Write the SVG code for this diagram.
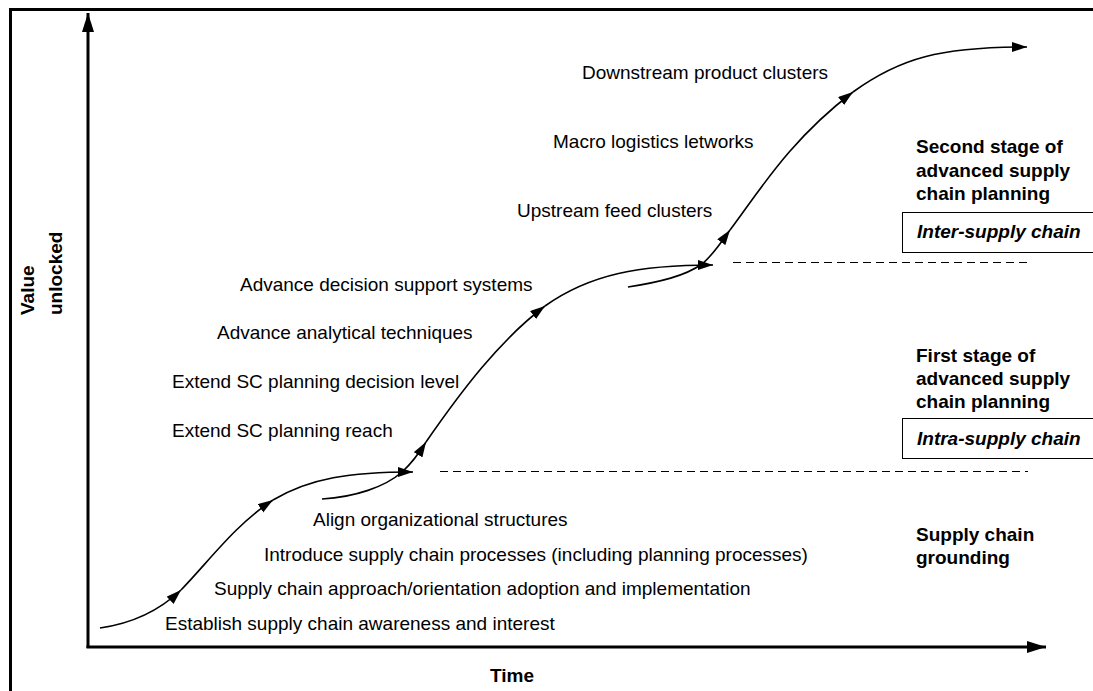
<svg xmlns="http://www.w3.org/2000/svg" width="1093" height="691" viewBox="0 0 1093 691">
<defs>
<marker id="ah" markerUnits="userSpaceOnUse" markerWidth="16" markerHeight="11" refX="15" refY="5" orient="auto" viewBox="0 0 16 11"><path d="M0,0 L15,5 L0,10 z" fill="#000"/></marker>
<marker id="axh" markerUnits="userSpaceOnUse" markerWidth="20" markerHeight="12" refX="19" refY="6" orient="auto" viewBox="0 0 20 12"><path d="M0,0 L19,6 L0,12 z" fill="#000"/></marker>
<style>
.t{font-family:"Liberation Sans",Arial,sans-serif;font-size:19px;fill:#000}
.b{font-family:"Liberation Sans",Arial,sans-serif;font-size:19px;font-weight:bold;fill:#000}
.bi{font-family:"Liberation Sans",Arial,sans-serif;font-size:19px;font-weight:bold;font-style:italic;fill:#000}
.c{fill:none;stroke:#000;stroke-width:1.6;marker-end:url(#ah)}
.ax{fill:none;stroke:#000;stroke-width:3;marker-end:url(#axh)}
.d{fill:none;stroke:#000;stroke-width:1;stroke-dasharray:8,5}
.box{fill:#fff;stroke:#000;stroke-width:1}
</style>
</defs>
<rect width="1093" height="691" fill="#fff"/>
<rect id="frame" x="10.5" y="9.5" width="1100" height="700" fill="none" stroke="#000" stroke-width="3"/>
<g id="axes">
<path class="ax" d="M88,648 L88,13"/>
<path class="ax" d="M86.5,647 L1046,647"/>
<text class="b" x="512" y="682" text-anchor="middle">Time</text>
<text class="b" transform="translate(34,315) rotate(-90)">Value</text>
<text class="b" transform="translate(62,315) rotate(-90)">unlocked</text>
</g>
<g id="connectors">
<path class="c" d="M100,628 C135,623 160,610 181,590"/>
<path class="c" d="M181,590 C210,560 235,525 273,500"/>
<path class="c" d="M273,500 C310,478 350,472 413,472"/>
<path class="c" d="M322,499 C355,497 385,487 402,472 C412,463 418,455 426,442"/>
<path class="c" d="M426,442 C462,390 500,340 545,306"/>
<path class="c" d="M545,306 C590,274 640,265 713,265"/>
<path class="c" d="M628,287 C660,282 685,276 702,264 C712,256 720,244 730,230"/>
<path class="c" d="M730,230 C760,190 790,140 853,92"/>
<path class="c" d="M853,92 C900,58 940,47 1027,47"/>
<path class="d" d="M440,471.5 L1028,471.5"/>
<path class="d" d="M733,262.5 L1028,262.5"/>
</g>
<g id="labels-left">
<text class="t" x="582" y="79">Downstream product clusters</text>
<text class="t" x="553" y="148">Macro logistics letworks</text>
<text class="t" x="517" y="217">Upstream feed clusters</text>
<text class="t" x="240" y="291">Advance decision support systems</text>
<text class="t" x="217" y="339">Advance analytical techniques</text>
<text class="t" x="172" y="388">Extend SC planning decision level</text>
<text class="t" x="172" y="437">Extend SC planning reach</text>
<text class="t" x="313" y="526">Align organizational structures</text>
<text class="t" x="264" y="561">Introduce supply chain processes (including planning processes)</text>
<text class="t" x="214" y="595">Supply chain approach/orientation adoption and implementation</text>
<text class="t" x="165" y="630">Establish supply chain awareness and interest</text>
</g>
<g id="stage2">
<text class="b" x="916" y="153">Second stage of</text>
<text class="b" x="916" y="177">advanced supply</text>
<text class="b" x="916" y="200">chain planning</text>
<rect class="box" x="902.5" y="212.5" width="200" height="40"/>
<text class="bi" x="917" y="238">Inter-supply chain</text>
</g>
<g id="stage1">
<text class="b" x="916" y="362">First stage of</text>
<text class="b" x="916" y="385">advanced supply</text>
<text class="b" x="916" y="408">chain planning</text>
<rect class="box" x="902.5" y="418.5" width="200" height="40"/>
<text class="bi" x="917" y="445">Intra-supply chain</text>
</g>
<g id="stage0">
<text class="b" x="916" y="541">Supply chain</text>
<text class="b" x="916" y="564">grounding</text>
</g>
</svg>
